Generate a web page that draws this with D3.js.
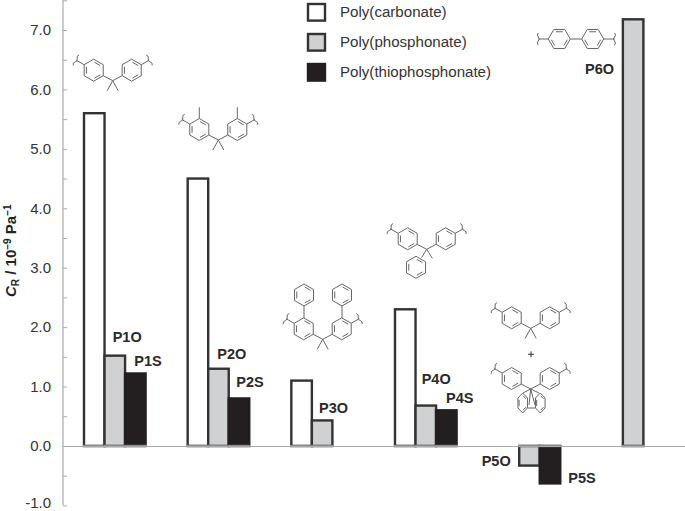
<!DOCTYPE html>
<html><head><meta charset="utf-8">
<script src="https://cdn.jsdelivr.net/npm/d3@7"></script>
<style>
html,body{margin:0;padding:0;background:#fff}
svg{display:block;font-family:"Liberation Sans",Arial,sans-serif}
</style></head><body>
<svg id="c" width="685" height="511"></svg>
<script>
// ---- data ----
const groups = ["P1","P2","P3","P4","P5","P6"];
const seriesNames = ["Poly(carbonate)","Poly(phosphonate)","Poly(thiophosphonate)"];
const carbonate = [5.6,4.5,1.1,2.3,null,null];
const phosphonate = [1.52,1.3,0.43,0.68,-0.33,7.18];
const thiophosphonate = [1.22,0.8,null,0.6,-0.63,null];
const yTicks = [-1,-0.5,0,0.5,1,1.5,2,2.5,3,3.5,4,4.5,5,5.5,6,6.5,7,7.5];
const barLabels = ["P1O","P1S","P2O","P2S","P3O","P4O","P4S","P5O","P5S","P6O"];

// ---- layout ----
const labelPos = {P1O:[112.7,341.7],P1S:[134.3,366],P2O:[217.3,359],P2S:[236.3,387.3],P3O:[319,412.7],
  P4O:[421.7,384.3],P4S:[446,402.7],P5O:[481.7,466],P5S:[568.3,483.3],P6O:[585,74]};
const seriesStyle = [{fill:"#fff",stroke:"#333"},{fill:"#cfd1d2",stroke:"#333"},{fill:"#231f20",stroke:"#231f20"}];
const svg = d3.select("#c");
const y = d3.scaleLinear().domain([-1,7]).range([505.4,30]);
const x = d3.scaleBand().domain(groups).range([63,685]);
const xs = d3.scaleBand().domain(d3.range(3)).range([21,82.6]);
const allSeries = [carbonate,phosphonate,thiophosphonate];

// ---- bars ----
const barG = svg.append("g");
allSeries.forEach((vals,si)=>{
  const rows = groups.map((g,i)=>({g,v:vals[i]})).filter(d=>d.v!==null);
  barG.selectAll(null).data(rows).enter().append("rect")
    .attr("x",d=>x(d.g)+xs(si)).attr("width",xs.bandwidth())
    .attr("y",d=>Math.min(y(d.v),y(0))).attr("height",d=>Math.abs(y(d.v)-y(0)))
    .attr("fill",seriesStyle[si].fill).attr("stroke",seriesStyle[si].stroke).attr("stroke-width",2.4);
  barG.selectAll(null).data(rows).enter().append("line")
    .attr("x1",d=>x(d.g)+xs(si)-1.2).attr("x2",d=>x(d.g)+xs(si)+xs.bandwidth()+1.2)
    .attr("y1",y(0)).attr("y2",y(0)).attr("stroke","#8c8c8c").attr("stroke-width",2.4);
});

// ---- axes ----
const axisCol = "#a9a9a9";
const yAxis = svg.append("g").attr("transform","translate(63,0)")
  .call(d3.axisLeft(y).tickValues(yTicks).tickSize(-4).tickPadding(12)
    .tickSizeOuter(0).tickFormat(d=>Number.isInteger(d)?d.toFixed(1):""));
yAxis.select(".domain").remove();
yAxis.selectAll(".tick line").attr("stroke",axisCol);
yAxis.selectAll("text").attr("font-size",15).attr("fill","#333").attr("font-family","Liberation Sans");
yAxis.selectAll(".tick").filter(d=>d===-1).select("text").attr("dy","0.16em");
svg.append("line").attr("x1",63).attr("x2",63).attr("y1",y(7.5)).attr("y2",y(-1)).attr("stroke",axisCol).attr("stroke-width",1.2);
const xAxis = svg.append("g").attr("transform",`translate(0,${y(0)})`)
  .call(d3.axisBottom(x).tickValues([]).tickSizeOuter(0));
xAxis.select(".domain").attr("stroke",axisCol).attr("stroke-width",1.2);

// axis title
const yt = svg.append("text").attr("transform","translate(16,297) rotate(-90)")
  .attr("font-size",15).attr("font-weight","bold").attr("fill","#222");
yt.append("tspan").attr("font-style","italic").text("C");
yt.append("tspan").attr("font-size",10).attr("dy",3).text("R");
yt.append("tspan").attr("dy",-3).text(" / 10");
yt.append("tspan").attr("font-size",10).attr("dy",-5).text("−9");
yt.append("tspan").attr("dy",5).text(" Pa");
yt.append("tspan").attr("font-size",10).attr("dy",-5).text("−1");

// bar labels
svg.append("g").selectAll("text").data(barLabels).enter().append("text")
  .attr("x",d=>labelPos[d][0]).attr("y",d=>labelPos[d][1]).attr("font-size",14.5)
  .attr("font-weight","bold").attr("fill","#2a2a2a").text(d=>d);

// legend
const leg = svg.append("g").selectAll("g").data(seriesNames).enter().append("g")
  .attr("transform",(d,i)=>`translate(0,${i*30})`);
leg.append("rect").attr("x",308).attr("y",4).attr("width",17).attr("height",16.6)
  .attr("fill",(d,i)=>seriesStyle[i].fill).attr("stroke",(d,i)=>seriesStyle[i].stroke).attr("stroke-width",2.4);
leg.append("text").attr("x",340).attr("y",17).attr("font-size",15.1).attr("fill","#333").text(d=>d);

// ---- structures ----
const mol = svg.append("g").attr("fill","none").attr("stroke","#666").attr("stroke-width",1);
const seg = (a,b,c,d)=>mol.append("line").attr("x1",a).attr("y1",b).attr("x2",c).attr("y2",d);
function ring(cx,cy,r=11,rot=-90,sx=1,sy=1){
  const pt=(k,rr)=>{const t=(rot+60*k)*Math.PI/180;return [cx+sx*rr*Math.cos(t),cy+sy*rr*Math.sin(t)];};
  mol.append("path").attr("d",d3.line()(d3.range(6).map(k=>pt(k,r)))+"Z");
  [0,2,4].forEach(k=>{
    const a=pt(k,r),b=pt(k+1,r),f=0.76,s=0.8;
    const ic=(p)=>[cx+(p[0]-cx)*f,cy+(p[1]-cy)*f];
    const p=ic(a),q=ic(b);
    seg(p[0]+(q[0]-p[0])*(1-s)/2,p[1]+(q[1]-p[1])*(1-s)/2,q[0]-(q[0]-p[0])*(1-s)/2,q[1]-(q[1]-p[1])*(1-s)/2);
  });
}
function wave(x,y0,x2,y2,h=6){
  seg(x,y0,x2,y2);
  const dx=x2-x,dy=y2-y0,l=Math.hypot(dx,dy),nx=-dy/l,ny=dx/l;
  mol.append("path").attr("d",`M${x2+nx*h},${y2+ny*h} q${dx/l*2-nx*2},${dy/l*2-ny*2} ${-nx*4},${-ny*4} t${-nx*4},${-ny*4} t${-nx*4},${-ny*4}`);
}
// isopropylidene bisphenyl core, cx,cy = central carbon
function core(cx,cy,methyl=true){
  const L=cx-19,R=cx+19,Y=cy-10.5;
  ring(L,Y); ring(R,Y);
  seg(L+9.5,Y+5.5,cx,cy); seg(R-9.5,Y+5.5,cx,cy);
  if(methyl){seg(cx,cy,cx-5.5,cy+10); seg(cx,cy,cx+5.5,cy+10);}
  wave(L-9.5,Y-5.5,L-17.5,Y-10);
  wave(R+9.5,Y-5.5,R+17.5,Y-10);
}
core(112.7,80.7);
core(218.3,140); seg(199.3,118.5,199.3,107.3); seg(237.3,118.5,237.3,107.3);
core(322.7,339.3);
seg(304,318.3,304,306); seg(342,318.3,342,306); ring(304,295); ring(342,295);
core(426.7,249.3,false); seg(426.7,249.3,432.3,258.3); seg(426.7,249.3,421.5,257.8); ring(416,267.3);
core(530.7,328.3);
mol.append("path").attr("d","M528,354.3h6M531,351.3v6").attr("stroke","#333");
core(530.7,389,false);
// fluorene part of the mixed monomer
seg(530.7,389,523,393); seg(530.7,389,539,393);
ring(522.7,403,10,-90,0.55,1); ring(540.3,403,10,-90,0.55,1);
seg(530.7,389,529,405); seg(530.7,389,535,405); seg(528,408,535,408);
// biphenyl P6
ring(559.3,39,11,0); ring(592.7,39,11,0); seg(570.3,39,581.7,39);
wave(548.3,39,538.3,39); wave(603.7,39,614.5,39);
</script>
</body></html>
